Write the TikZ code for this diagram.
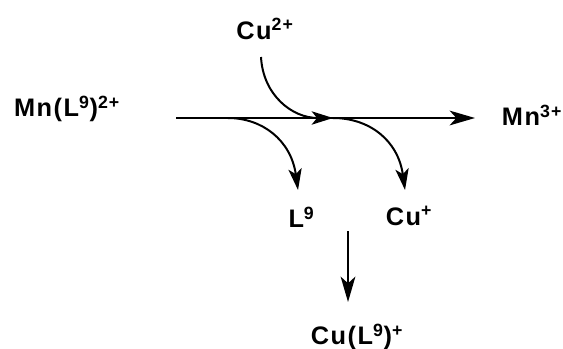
\documentclass[tikz,border=0pt]{standalone}
\usepackage{fontspec}
\setmainfont[LetterSpace=6]{Liberation Sans}
\usetikzlibrary{arrows.meta,positioning}
\tikzset{every node/.style={font=\bfseries\fontsize{19}{23}\selectfont, inner sep=1pt},
  rxn/.style={-{Stealth[length=16pt,width=10pt,inset=4pt]}, line width=1.5pt},
  mainrxn/.style={-{Stealth[length=19pt,width=11pt,inset=5pt]}, line width=1.8pt}}
\begin{document}
\begin{tikzpicture}[x=1pt,y=-1pt,scale=0.75]
    \useasboundingbox (0,0) rectangle (563,349);
    \node (mn2) at (67,109) {Mn(L\textsuperscript{9})\textsuperscript{2+}};
    \node (cu2) at (265,29) {Cu\textsuperscript{2+}};
    \node (mn3) at (532,115) {Mn\textsuperscript{3+}};
    \node (l9) at (301.5,217) {L\textsuperscript{9}};
    \node (cu1) at (409,216) {Cu\textsuperscript{+}};
    \node (cul9) at (357,337) {Cu(L\textsuperscript{9})\textsuperscript{+}};
    \coordinate (a) at (176,118);
    \coordinate (b) at (475,118);
    \coordinate (c) at (261,57);
    \coordinate (d) at (333,118);
    \coordinate (e) at (228,118);
    \coordinate (f) at (298,190);
    \coordinate (g) at (405,190);
    \coordinate (h) at (348,231);
    \coordinate (i) at (348,302);
    \draw[mainrxn] (a) -- (b);
    \draw[rxn] (c) .. controls (263,95) and (292,118) .. (d);
    \draw[rxn] (e) .. controls (262,118) and (291,140) .. (f);
    \draw[rxn] (d) .. controls (369,118) and (398,140) .. (g);
    \draw[mainrxn] (h) -- (i);
\end{tikzpicture}
\end{document}
